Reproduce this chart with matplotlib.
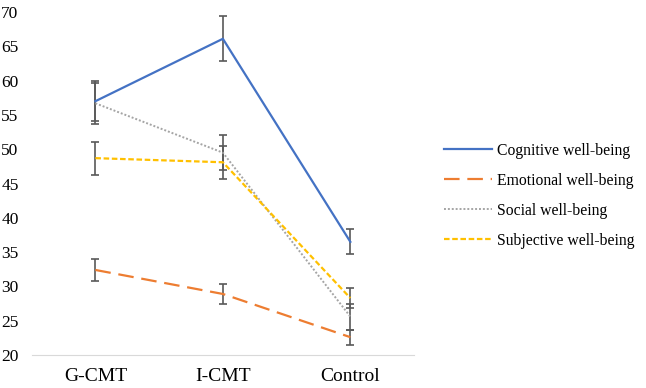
import matplotlib
matplotlib.use("Agg")
import matplotlib.pyplot as plt

groups = ["G-CMT", "I-CMT", "Control"]
series = ["Cognitive well-being", "Emotional well-being",
          "Social well-being", "Subjective well-being"]
cognitive = [57.0, 66.1, 36.5]
cognitive_err = [2.9, 3.3, 1.8]
emotional = [32.4, 28.9, 22.6]
emotional_err = [1.6, 1.4, 1.1]
social = [56.7, 49.5, 25.6]
social_err = [3.0, 2.6, 1.9]
subjective = [48.7, 48.1, 28.3]
subjective_err = [2.4, 2.4, 1.4]

plt.rcParams['font.family'] = ['Liberation Serif', 'DejaVu Serif']

fig = plt.figure(figsize=(6.46, 3.88), dpi=100)
ax = fig.add_axes([0.049, 0.085, 0.592, 0.884])

x = list(range(len(groups)))
styles = [
    (cognitive, cognitive_err, '#4472C4', '-', 1.6),
    (emotional, emotional_err, '#ED7D31', (0, (7, 3.5)), 1.6),
    (social, social_err, '#A5A5A5', (0, (1, 1)), 1.4),
    (subjective, subjective_err, '#FFC000', (0, (2.5, 1.2)), 1.6),
]
handles = []
for (vals, err, col, ls, lw), name in zip(styles, series):
    ax.errorbar(x, vals, yerr=err, fmt='none', ecolor='#595959',
                elinewidth=1.2, capsize=3.2, capthick=1.2, zorder=2)
    h, = ax.plot(x, vals, color=col, linestyle=ls, lw=lw, label=name, zorder=3)
    handles.append(h)

ax.set_xlim(-0.5, 2.5)
ax.set_ylim(20, 70)
ax.set_yticks(range(20, 71, 5))
ax.set_xticks(x)
ax.set_xticklabels(groups)
ax.tick_params(length=0, colors='#000000')
ax.tick_params(axis='x', pad=9, labelsize=14)
ax.tick_params(axis='y', pad=9.4, labelsize=12.5)
for s in ['top', 'right', 'left']:
    ax.spines[s].set_visible(False)
ax.spines['bottom'].set_color('#D9D9D9')

fig.legend(handles=handles, loc='center left', bbox_to_anchor=(0.666, 0.495),
           frameon=False, fontsize=11.3, handlelength=3.06, labelspacing=0.89,
           handletextpad=0.32)

fig.savefig('out.png', dpi=100)
